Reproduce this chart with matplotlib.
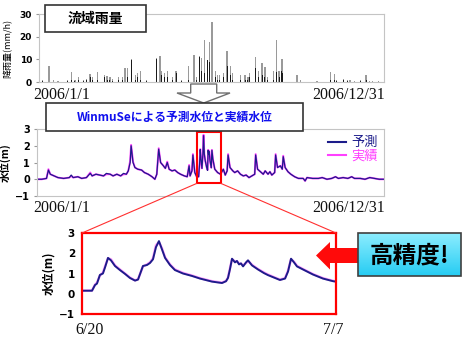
import numpy as np
import matplotlib
matplotlib.use("Agg")
import matplotlib.pyplot as plt
from matplotlib.patches import Polygon, Rectangle, ConnectionPatch
from matplotlib.lines import Line2D

plt.rcParams['font.family'] = ['Noto Sans CJK JP', 'DejaVu Sans']

# 流域雨量 (day of 2006, mm/h)
rain_day = [4, 10.6, 15, 20, 30, 34, 38, 42, 47, 50, 54, 57, 62, 69, 72, 75, 78, 84, 88,
            91, 94, 98, 102, 104, 107, 114, 124, 128, 130, 133, 136, 141, 145, 151, 158,
            164, 167, 170, 172, 175, 178, 180, 183, 187, 189, 191, 195, 199, 203, 205,
            213, 218, 221, 223, 229, 232, 236, 239, 242, 248, 251, 254, 257, 258, 273,
            277, 294, 308, 313, 315, 322, 326, 329, 334, 340, 346, 350, 353, 359]
rain_grey = [1, 7, 1, 0.5, 1, 4.5, 1, 2, 1, 1.5, 3.5, 2, 4.5, 3, 2.5, 2, 1.5, 2, 2,
             6, 6, 10, 3, 4, 5, 1, 10.5, 11.5, 5, 4, 5, 2, 5, 1, 7,
             12, 2, 11.5, 10.5, 18.5, 9.5, 17.5, 26.5, 5, 3, 3, 4, 13.5, 7, 4,
             3, 3, 2, 4, 11, 5, 8.5, 6.5, 2, 5, 18.5, 5, 10, 9, 3,
             1, 0.5, 4.5, 3.5, 1, 1.5, 1, 1, 0.5, 1, 3, 0.5, 0.5, 0.5]
rain_black = [0.5, 3, 0, 0, 0.5, 1, 0.5, 1, 0.5, 1, 2, 1, 1, 2, 1, 1, 0.5, 1, 1,
              1.5, 2, 9.5, 1, 2, 1, 0.5, 10, 11, 3, 2, 2, 1, 4, 0.5, 1,
              12, 1, 11, 5, 4, 9.5, 9, 19, 2, 1, 1, 2, 7, 3, 1,
              1, 1, 1, 2, 6, 2, 3, 2, 1, 1, 4.5, 2, 5, 4, 0,
              0, 0, 1, 1, 0.5, 1, 0.5, 0.5, 0, 0.5, 1, 0, 0, 0]

# 水位 (day of 2006, m)
lvl_day = [0, 5, 10, 12, 14, 18, 22, 28, 34, 36, 38, 43, 47, 52, 56, 58, 62, 66, 70, 73,
           77, 80, 84, 88, 91, 94, 96, 98, 99, 101, 103, 106, 110, 113, 117, 121, 124,
           126, 128, 130, 133, 135, 137, 139, 142, 145, 148, 151, 155, 158, 160, 161,
           163, 164, 166, 168, 170, 171, 171.7, 172.5, 173.5, 174.5, 175.2, 176, 177,
           178.5, 179.4, 180, 180.5, 181.1, 182, 183.3, 184, 185, 187, 190, 193, 196,
           198, 200, 201, 203, 206, 208, 211, 214, 217, 220, 223, 226, 229, 230, 232,
           235, 238, 240, 243, 245, 247, 250, 251, 253, 256, 258, 259, 261, 264, 267,
           271, 275, 280, 282, 284, 290, 296, 300, 305, 310, 314, 317, 322, 327, 331,
           334, 340, 345, 350, 355, 360, 365]
lvl_pred = [0.0, 0.0, 0.05, 0.55, 0.3, 0.2, 0.1, 0.05, 0.1, 0.25, 0.1, 0.15, 0.05, 0.1,
            0.35, 0.2, 0.3, 0.25, 0.2, 0.35, 0.3, 0.2, 0.3, 0.2, 0.35, 0.3, 0.5, 1.0, 2.0,
            1.0, 0.7, 0.6, 0.55, 0.4, 0.3, 0.15, 0.0, 0.3, 1.8, 1.0, 0.8, 0.65, 1.0, 0.6,
            0.5, 0.55, 0.4, 0.3, 0.2, 0.15, 0.8, 0.2, 0.5, 1.45, 0.4, 0.15, 0.15, 0.9,
            1.77, 1.2, 0.65, 1.5, 2.6, 1.5, 1.1, 0.7, 0.53, 1.73, 1.5, 1.65, 1.1, 0.68,
            1.73, 1.2, 0.6, 0.4, 0.3, 0.6, 0.25, 0.5, 1.45, 0.7, 0.5, 0.4, 0.5, 0.3, 0.2,
            0.25, 0.1, 0.2, 0.3, 1.45, 0.6, 0.45, 0.3, 0.5, 0.3, 0.45, 0.25, 0.4, 1.45,
            0.7, 0.8, 0.6, 1.35, 0.7, 0.45, 0.3, 0.15, 0.05, 0.05, -0.1, 0.1, 0.05, 0.05,
            0.1, 0.0, 0.05, 0.15, 0.05, 0.1, 0.05, 0.15, 0.05, 0.05, 0.0, 0.1, 0.05, 0.0,
            0.0]
lvl_obs = [0.0, 0.0, 0.05, 0.6, 0.3, 0.2, 0.1, 0.05, 0.1, 0.2, 0.1, 0.15, 0.05, 0.1,
           0.4, 0.2, 0.3, 0.25, 0.2, 0.3, 0.3, 0.2, 0.3, 0.2, 0.3, 0.3, 0.5, 1.1, 2.05,
           1.05, 0.7, 0.6, 0.55, 0.4, 0.3, 0.15, 0.0, 0.3, 1.85, 1.0, 0.8, 0.65, 1.05, 0.6,
           0.5, 0.55, 0.4, 0.3, 0.2, 0.15, 0.85, 0.2, 0.5, 1.5, 0.4, 0.15, 0.15, 0.9,
           1.8, 1.2, 0.65, 1.5, 2.65, 1.5, 1.1, 0.7, 0.55, 1.75, 1.5, 1.7, 1.1, 0.7,
           1.75, 1.2, 0.6, 0.4, 0.3, 0.6, 0.25, 0.5, 1.5, 0.7, 0.5, 0.4, 0.5, 0.3, 0.2,
           0.25, 0.1, 0.2, 0.3, 1.5, 0.6, 0.45, 0.3, 0.5, 0.3, 0.45, 0.25, 0.4, 1.5,
           0.7, 0.8, 0.6, 1.4, 0.7, 0.45, 0.3, 0.15, 0.05, 0.05, -0.1, 0.1, 0.05, 0.05,
           0.1, 0.0, 0.05, 0.15, 0.05, 0.1, 0.05, 0.15, 0.05, 0.05, 0.0, 0.1, 0.05, 0.0,
           0.0]

# 6/20 - 7/7 (days after 6/20, m)
zoom_t = [0.0, 0.67, 0.87, 1.0, 1.2, 1.4, 1.54, 1.74, 1.94, 2.21, 2.54, 2.88, 3.21, 3.55,
          3.75, 4.08, 4.35, 4.55, 4.75, 4.95, 5.15, 5.35, 5.56, 5.89, 6.22, 6.76, 7.36,
          7.9, 8.7, 9.37, 9.64, 9.77, 9.9, 10.04, 10.24, 10.37, 10.51, 10.64, 10.78,
          10.98, 11.11, 11.38, 11.78, 12.18, 12.45, 12.85, 13.25, 13.59, 13.79, 13.99,
          14.19, 14.39, 14.79, 15.46, 16.13, 16.8, 17.0]
zoom_pred = [0.15, 0.15, 0.43, 0.5, 0.93, 1.0, 1.3, 1.77, 1.65, 1.37, 1.17, 0.98, 0.78,
             0.65, 0.7, 1.37, 1.42, 1.52, 1.7, 2.3, 2.6, 2.2, 1.77, 1.42, 1.17, 1.0, 0.88,
             0.75, 0.6, 0.53, 0.62, 0.78, 1.2, 1.73, 1.55, 1.62, 1.45, 1.5, 1.35, 1.55,
             1.65, 1.4, 1.2, 1.02, 0.92, 0.8, 0.68, 0.75, 1.1, 1.73, 1.55, 1.35, 1.2,
             0.95, 0.75, 0.62, 0.6]
zoom_obs = [0.15, 0.16, 0.45, 0.55, 0.9, 1.05, 1.35, 1.75, 1.7, 1.4, 1.2, 1.0, 0.8,
            0.66, 0.72, 1.35, 1.45, 1.55, 1.75, 2.4, 2.55, 2.25, 1.8, 1.45, 1.2, 1.03,
            0.9, 0.77, 0.62, 0.55, 0.63, 0.8, 1.25, 1.7, 1.6, 1.6, 1.5, 1.48, 1.4, 1.52,
            1.62, 1.43, 1.22, 1.05, 0.95, 0.82, 0.7, 0.77, 1.15, 1.7, 1.58, 1.38, 1.22,
            0.97, 0.77, 0.64, 0.6]

W, H = 470, 350
PRED_C = '#1c1c8a'
OBS_C = '#ff40ff'


def box(x0, y0, x1, y1):
    return [x0 / W, 1 - y1 / H, (x1 - x0) / W, (y1 - y0) / H]


def style_ticks(ax, size):
    for lab in ax.get_yticklabels():
        lab.set_fontweight('bold')
        lab.set_fontsize(size)
        lab.set_family(['DejaVu Sans'])


fig = plt.figure(figsize=(4.7, 3.5), dpi=100)

# top: rainfall
ax1 = fig.add_axes(box(39, 14, 384, 82))
ax1.bar(rain_day, rain_grey, width=1.3, color='#9a9a9a', linewidth=0)
ax1.bar(rain_day, rain_black, width=1.0, color='#1a1a1a', linewidth=0)
ax1.set_xlim(0, 365)
ax1.set_ylim(0, 30)
ax1.set_yticks([0, 10, 20, 30])
ax1.set_xticks([])
for s in ax1.spines.values():
    s.set_color('#c4c4c4')
ax1.tick_params(axis='y', length=2, pad=3, color='#999999')
style_ticks(ax1, 6.5)
ax1.set_ylabel('降雨量(mm/h)', fontsize=6.5)
ax1.yaxis.set_label_coords(-0.078, 0.5)

# middle: water level whole year
ax2 = fig.add_axes(box(37, 129, 384, 196))
ax2.plot(lvl_day, lvl_obs, color=OBS_C, lw=1.4)
ax2.plot(lvl_day, lvl_pred, color=PRED_C, lw=0.9)
ax2.set_xlim(0, 365)
ax2.set_ylim(-1, 3)
ax2.set_yticks([-1, 0, 1, 2, 3])
ax2.set_xticks([])
for s in ax2.spines.values():
    s.set_color('#c4c4c4')
ax2.tick_params(axis='y', length=2, pad=3, color='#999999')
style_ticks(ax2, 7)
ax2.set_ylabel('水位(m)', fontsize=7.5, fontweight='bold')
ax2.yaxis.set_label_coords(-0.075, 0.5)
handles = [Line2D([], [], color=PRED_C, lw=1.5), Line2D([], [], color=OBS_C, lw=1.5)]
ax2.legend(handles, ['予測', '実績'], loc='upper right', bbox_to_anchor=(1.0, 0.99),
           frameon=False, fontsize=9.5, handlelength=1.3, handletextpad=0.4,
           labelspacing=0.05, labelcolor=[PRED_C, OBS_C], borderaxespad=0.1)
ax2.add_patch(Rectangle((168, -0.25), 25.5, 3.08, fill=False, ec='#ff0000', lw=1.5,
                        zorder=5))

# bottom: 6/20 - 7/7
ax3 = fig.add_axes(box(82, 233, 336, 314))
ax3.plot(zoom_t, zoom_obs, color=OBS_C, lw=1.8, alpha=0.5)
ax3.plot(zoom_t, zoom_pred, color=PRED_C, lw=1.4)
ax3.set_xlim(0, 17)
ax3.set_ylim(-1, 3)
ax3.set_yticks([-1, 0, 1, 2, 3])
ax3.set_xticks([])
for s in ax3.spines.values():
    s.set_color('#ff0000')
    s.set_linewidth(1.6)
ax3.tick_params(axis='y', length=0, pad=5)
style_ticks(ax3, 7.5)
ax3.set_ylabel('水位(m)', fontsize=8.5, fontweight='bold')
ax3.yaxis.set_label_coords(-0.105, 0.5)

for xy_a, xy_b in [((168, -0.25), (0, 1)), ((193.5, -0.25), (1, 1))]:
    con = ConnectionPatch(xyA=xy_a, coordsA=ax2.transData, xyB=xy_b,
                          coordsB=ax3.transAxes, color='#ff3030', lw=0.8)
    fig.add_artist(con)

# overlay in pixel space
ov = fig.add_axes([0, 0, 1, 1], zorder=10)
ov.set_xlim(0, W)
ov.set_ylim(H, 0)
ov.axis('off')

ov.add_patch(Rectangle((45, 5), 101, 27, fc='white', ec='#333333', lw=1.2))
ov.text(95.5, 18.5, '流域雨量', ha='center', va='center', fontsize=10, fontweight='bold')

ov.add_patch(Polygon([(190.7, 84), (216.7, 84), (216.7, 93), (230, 93), (203.7, 103),
                      (177, 93), (190.7, 93)], closed=True, fc='white', ec='#707070',
                     lw=1))

ov.add_patch(Rectangle((46, 103), 257, 28, fc='white', ec='#333333', lw=1.2))
ov.text(174.5, 117, 'WinmuSeによる予測水位と実績水位', ha='center', va='center',
        fontsize=8.5, fontweight='bold', color='#1010ee')

serif = dict(family=['Liberation Serif', 'DejaVu Serif'], fontsize=11.5, color='#111111')
ov.text(33, 99, '2006/1/1', ha='left', va='baseline', **serif)
ov.text(385, 99, '2006/12/31', ha='right', va='baseline', **serif)
ov.text(33, 212, '2006/1/1', ha='left', va='baseline', **serif)
ov.text(385, 212, '2006/12/31', ha='right', va='baseline', **serif)
ov.text(90, 334, '6/20', ha='center', va='baseline', **serif)
ov.text(333, 334, '7/7', ha='center', va='baseline', **serif)

ov.add_patch(Polygon([(359, 248), (330, 248), (330, 242), (316, 255.5), (330, 269.5),
                      (330, 263), (359, 263)], closed=True, fc='#ff0a0a', ec='none'))

grad = np.linspace(0, 1, 64).reshape(-1, 1)
top_c = np.array([0.55, 0.93, 1.0])
bot_c = np.array([0.15, 0.80, 0.95])
img = top_c * (1 - grad[..., None]) + bot_c * grad[..., None]
ov.imshow(img, extent=[358, 461, 276, 233], aspect='auto', zorder=1)
ov.add_patch(Rectangle((358, 233), 103, 43, fill=False, ec='#404040', lw=1.2, zorder=2))
ov.text(409.5, 255, '高精度!', ha='center', va='center', fontsize=17, fontweight='bold',
        color='black', zorder=3)
ov.set_xlim(0, W)
ov.set_ylim(H, 0)

fig.savefig('out.png', dpi=100)
